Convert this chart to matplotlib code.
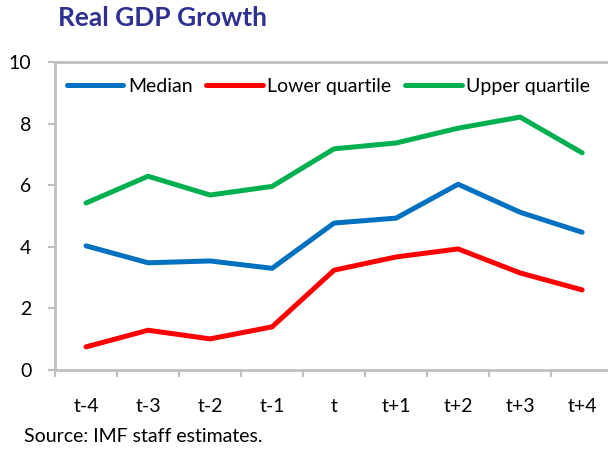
import matplotlib
matplotlib.use("Agg")
import matplotlib.pyplot as plt

plt.rcParams['font.family'] = ['Lato', 'DejaVu Sans']

# periods and series (percent)
periods = ['t-4', 't-3', 't-2', 't-1', 't', 't+1', 't+2', 't+3', 't+4']
median = [4.03, 3.48, 3.54, 3.30, 4.77, 4.93, 6.03, 5.12, 4.47]
lower_q = [0.75, 1.29, 1.01, 1.40, 3.24, 3.67, 3.93, 3.15, 2.60]
upper_q = [5.42, 6.29, 5.68, 5.96, 7.18, 7.37, 7.85, 8.21, 7.05]

fig = plt.figure(figsize=(6.08, 4.49), dpi=100)
ax = fig.add_axes([0.0905, 0.176, 0.918, 0.686])

x = range(len(periods))
ax.plot(x, median, color='#0070C0', lw=3.6, solid_capstyle='round', label='Median')
ax.plot(x, lower_q, color='#FF0000', lw=3.6, solid_capstyle='round', label='Lower quartile')
ax.plot(x, upper_q, color='#00B050', lw=3.6, solid_capstyle='round', label='Upper quartile')

ax.set_xlim(-0.5, len(periods) - 0.5)
ax.set_ylim(0, 10)
ax.set_yticks(range(0, 11, 2))
ax.set_xticks(x)
ax.set_xticklabels(periods)
ax.set_xticks([i - 0.5 for i in range(len(periods) + 1)], minor=True)
ax.tick_params(axis='x', which='major', length=0, pad=20, labelsize=14)
ax.tick_params(axis='x', which='minor', length=5, color='#BFBFBF', width=1.5)
ax.tick_params(axis='y', length=5, color='#BFBFBF', width=1.5, labelsize=14, pad=12)

ax.spines['right'].set_visible(False)
for s in ['left', 'bottom', 'top']:
    ax.spines[s].set_color('#BFBFBF')
    ax.spines[s].set_linewidth(2)

ax.legend(loc='upper left', bbox_to_anchor=(0.0, 0.985), ncol=3, frameon=False,
          fontsize=14, handlelength=2.9, columnspacing=0.7, handletextpad=0.25,
          borderaxespad=0.2)

fig.text(0.095, 0.96, 'Real GDP Growth', fontsize=19, fontweight='bold',
         color='#2E3192', va='center')
fig.text(0.04, 0.028, 'Source: IMF staff estimates.', fontsize=14, va='center')

fig.savefig('out.png', dpi=100)
